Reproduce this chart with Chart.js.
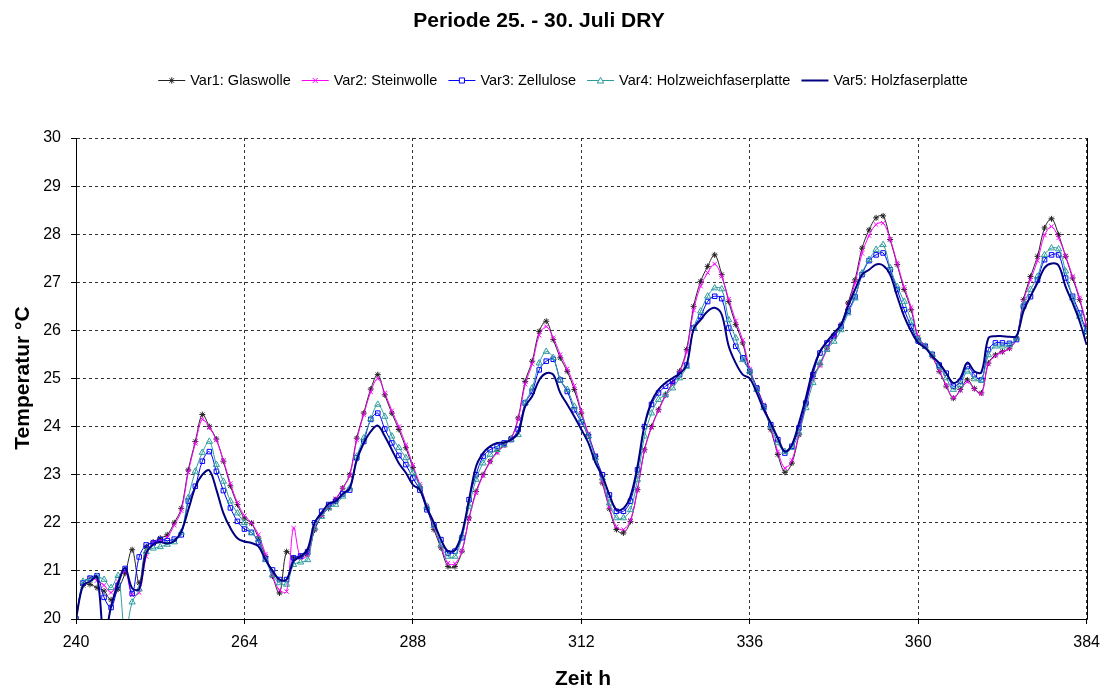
<!DOCTYPE html>
<html>
<head>
<meta charset="utf-8">
<title>Periode 25. - 30. Juli DRY</title>
<script src="https://cdn.jsdelivr.net/npm/chart.js@4.4.1/dist/chart.umd.min.js"></script>
<style>
  html, body { margin: 0; padding: 0; background: #ffffff; overflow: hidden; }
  #wrap { width: 1109px; height: 691px; }
</style>
</head>
<body>
<div id="wrap"><canvas id="chart" width="1109" height="691"></canvas></div>
<script>
// hourly simulation output, hour 240 .. 384
var hours = [];
for (var h = 240; h <= 384; h++) hours.push(h);

var xTicks = [240, 264, 288, 312, 336, 360, 384];

var glaswolle = [
  20.0, 20.7, 20.72, 20.65, 20.58, 20.4, 20.62, 20.95, 21.44, 20.75, 21.5, 21.6,
  21.68, 21.75, 22.0, 22.3, 23.1, 23.69, 24.25, 24.0, 23.74, 23.28, 22.77, 22.38,
  22.1, 21.99, 21.68, 21.3, 20.89, 20.54, 21.4, 21.27, 21.3, 21.35, 21.85, 22.15,
  22.3, 22.48, 22.72, 23.0, 23.76, 24.28, 24.78, 25.08, 24.66, 24.28, 23.94, 23.56,
  23.15, 22.75, 22.31, 21.86, 21.48, 21.09, 21.09, 21.41, 22.1, 22.65, 23.0, 23.28,
  23.48, 23.62, 23.76, 24.18, 24.94, 25.36, 25.98, 26.19, 25.81, 25.43, 25.15, 24.77,
  24.28, 23.83, 23.38, 22.83, 22.29, 21.86, 21.79, 22.03, 22.69, 23.52, 24.0, 24.35,
  24.66, 24.91, 25.15, 25.6, 26.5, 27.02, 27.33, 27.57, 27.16, 26.6, 26.12, 25.74,
  25.13, 24.8, 24.42, 23.94, 23.42, 23.05, 23.24, 23.83, 24.49, 25.04, 25.29, 25.63,
  25.88, 26.12, 26.57, 27.05, 27.71, 28.09, 28.34, 28.38, 27.89, 27.37, 26.85, 26.43,
  25.84, 25.67, 25.46, 25.15, 24.84, 24.59, 24.77, 24.97, 24.79, 24.7, 25.32, 25.49,
  25.56, 25.63, 25.84, 26.64, 27.12, 27.54, 28.13, 28.32, 27.99, 27.54, 27.09, 26.64,
  26.08
];

var steinwolle = [
  20.0, 20.75, 20.85, 20.8, 20.7, 20.55, 20.78, 21.0, 20.5, 20.55, 21.3, 21.6,
  21.62, 21.7, 21.95, 22.25, 23.05, 23.65, 24.15, 23.98, 23.72, 23.3, 22.82, 22.42,
  22.15, 22.0, 21.75, 21.35, 20.9, 20.6, 20.57, 21.89, 21.27, 21.33, 21.88, 22.15,
  22.33, 22.5, 22.72, 22.98, 23.72, 24.25, 24.72, 25.0, 24.7, 24.33, 24.0, 23.62,
  23.2, 22.8, 22.35, 21.9, 21.52, 21.16, 21.15, 21.42, 22.08, 22.62, 22.98, 23.26,
  23.46, 23.6, 23.75, 24.15, 24.88, 25.3, 25.9, 26.08, 25.85, 25.5, 25.2, 24.85,
  24.32, 23.85, 23.4, 22.86, 22.33, 21.92, 21.86, 22.05, 22.68, 23.5, 23.98, 24.33,
  24.64, 24.9, 25.13, 25.55, 26.42, 26.92, 27.2, 27.38, 27.12, 26.65, 26.2, 25.8,
  25.2, 24.82, 24.45, 23.98, 23.48, 23.14, 23.3, 23.85, 24.47, 25.0, 25.27, 25.6,
  25.86, 26.1, 26.52, 26.98, 27.6, 27.97, 28.2, 28.23, 27.9, 27.4, 26.9, 26.48,
  25.87, 25.68, 25.47, 25.17, 24.86, 24.6, 24.75, 24.93, 24.78, 24.68, 25.3, 25.47,
  25.55, 25.62, 25.83, 26.6, 27.05, 27.45, 27.98, 28.16, 27.92, 27.55, 27.12, 26.68,
  26.1
];

var zellulose = [
  20.0, 20.75, 20.85, 20.9, 20.45, 20.24, 20.7, 21.05, 20.53, 21.29, 21.54, 21.58,
  21.65, 21.63, 21.66, 21.75, 22.45, 22.76, 23.28, 23.48, 23.07, 22.67, 22.31, 22.03,
  21.87, 21.8, 21.6, 21.25, 21.02, 20.82, 20.82, 21.27, 21.31, 21.4, 22.0, 22.24,
  22.38, 22.45, 22.6, 22.68, 23.35, 23.69, 24.15, 24.28, 23.95, 23.66, 23.4, 23.21,
  22.93, 22.68, 22.27, 21.96, 21.65, 21.37, 21.41, 21.69, 22.48, 23.0, 23.38, 23.52,
  23.59, 23.66, 23.73, 23.94, 24.49, 24.73, 25.18, 25.36, 25.4, 24.97, 24.73, 24.35,
  24.1, 23.8, 23.38, 23.0, 22.58, 22.24, 22.24, 22.45, 23.1, 24.0, 24.46, 24.7,
  24.84, 24.94, 25.08, 25.28, 26.05, 26.29, 26.6, 26.71, 26.66, 26.05, 25.67, 25.43,
  25.15, 24.8, 24.42, 24.04, 23.73, 23.45, 23.59, 23.97, 24.49, 25.08, 25.53, 25.74,
  25.88, 26.08, 26.4, 26.7, 27.16, 27.45, 27.57, 27.61, 27.26, 26.85, 26.43, 26.08,
  25.78, 25.67, 25.5, 25.28, 25.11, 24.84, 24.94, 25.25, 25.08, 24.97, 25.6, 25.74,
  25.74, 25.73, 25.81, 26.5, 26.7, 27.05, 27.47, 27.57, 27.57, 27.09, 26.71, 26.36,
  25.98
];

var holzweichfaser = [
  20.0, 20.78, 20.83, 20.88, 20.82, 20.65, 20.9, 19.7, 20.35, 20.62, 21.4, 21.47,
  21.5, 21.55, 21.6, 21.8, 22.52, 23.07, 23.46, 23.69, 23.21, 22.86, 22.45, 22.2,
  22.0, 21.79, 21.65, 21.23, 20.92, 20.75, 20.72, 21.13, 21.18, 21.23, 21.9, 22.13,
  22.31, 22.38, 22.55, 22.72, 23.38, 23.76, 24.16, 24.46, 24.21, 23.8, 23.56, 23.35,
  23.04, 22.76, 22.34, 21.93, 21.54, 21.3, 21.3, 21.72, 22.34, 22.9, 23.24, 23.42,
  23.52, 23.62, 23.73, 23.83, 24.49, 24.8, 25.32, 25.56, 25.43, 24.97, 24.77, 24.42,
  24.14, 23.8, 23.35, 22.93, 22.41, 22.1, 22.1, 22.27, 22.9, 23.8, 24.28, 24.56,
  24.66, 24.8, 25.01, 25.25, 26.05, 26.4, 26.71, 26.88, 26.86, 26.22, 25.84, 25.39,
  25.15, 24.77, 24.39, 24.0, 23.66, 23.48, 23.56, 23.87, 24.39, 24.91, 25.32, 25.6,
  25.77, 26.01, 26.36, 26.67, 27.19, 27.47, 27.68, 27.78, 27.3, 26.91, 26.6, 26.19,
  25.81, 25.67, 25.5, 25.25, 25.01, 24.77, 24.87, 25.15, 24.99, 24.96, 25.49, 25.67,
  25.67, 25.7, 25.84, 26.53, 26.85, 27.12, 27.57, 27.71, 27.69, 27.23, 26.67, 26.29,
  25.95
];

var holzfaser = [
  20.0, 20.7, 20.78, 20.88, 19.6, 20.26, 20.75, 21.06, 20.64, 20.62, 21.37, 21.55,
  21.6, 21.57, 21.62, 21.82, 22.27, 22.74, 23.0, 23.09, 22.69, 22.2, 21.89, 21.68,
  21.61, 21.58, 21.51, 21.23, 21.0, 20.82, 20.82, 21.2, 21.3, 21.45, 22.0, 22.2,
  22.4, 22.45, 22.6, 22.72, 23.3, 23.66, 23.9, 24.02, 23.8, 23.52, 23.24, 23.04,
  22.79, 22.68, 22.31, 22.0, 21.65, 21.41, 21.44, 21.79, 22.48, 23.17, 23.45, 23.59,
  23.66, 23.67, 23.73, 23.87, 24.42, 24.63, 24.97, 25.11, 25.08, 24.7, 24.46, 24.21,
  23.94, 23.66, 23.25, 22.97, 22.58, 22.27, 22.3, 22.55, 23.17, 24.03, 24.52, 24.77,
  24.91, 25.01, 25.1, 25.28, 26.03, 26.22, 26.4, 26.47, 26.33, 25.67, 25.32, 25.08,
  25.0, 24.7, 24.35, 24.07, 23.76, 23.48, 23.62, 24.07, 24.6, 25.18, 25.56, 25.77,
  25.95, 26.12, 26.5, 26.85, 27.16, 27.26, 27.37, 27.35, 27.16, 26.71, 26.29, 25.98,
  25.74, 25.64, 25.46, 25.32, 25.11, 24.91, 25.01, 25.33, 25.15, 25.13, 25.84, 25.88,
  25.88, 25.87, 25.88, 26.4, 26.71, 26.99, 27.3, 27.39, 27.35, 26.91, 26.57, 26.19,
  25.7
];

var seriesNames = [
  "Var1: Glaswolle",
  "Var2: Steinwolle",
  "Var3: Zellulose",
  "Var4: Holzweichfaserplatte",
  "Var5: Holzfaserplatte"
];

var FONT = "Arial, 'Liberation Sans', sans-serif";

function points(values) {
  return values.map(function (v, i) { return { x: hours[i], y: v }; });
}

function series(idx, values, color, width, style, radius, order) {
  return {
    label: seriesNames[idx],
    data: points(values),
    borderColor: color,
    backgroundColor: color,
    borderWidth: width,
    pointStyle: style,
    pointRadius: radius,
    pointBorderColor: color,
    pointBackgroundColor: "rgba(0,0,0,0)",
    pointBorderWidth: 1,
    tension: 0.35,
    fill: false,
    order: order
  };
}

var datasets = [
  series(0, glaswolle, "#222222", 1, "star", 3, 5),
  series(1, steinwolle, "#ff00ff", 1, "crossRot", 3, 4),
  series(2, zellulose, "#0000ff", 1, "rect", 3.2, 3),
  series(3, holzweichfaser, "#2e9c9c", 1, "triangle", 3.6, 2),
  series(4, holzfaser, "#000080", 2, false, 0, 1)
];

// little marker painter used by the hand-drawn legend
function drawMarker(ctx, style, x, y, color) {
  var r = 3.2;
  ctx.save();
  ctx.strokeStyle = color;
  ctx.lineWidth = 1;
  ctx.beginPath();
  if (style === "star") {
    ctx.moveTo(x - r, y); ctx.lineTo(x + r, y);
    ctx.moveTo(x, y - r); ctx.lineTo(x, y + r);
    ctx.moveTo(x - r * 0.7, y - r * 0.7); ctx.lineTo(x + r * 0.7, y + r * 0.7);
    ctx.moveTo(x - r * 0.7, y + r * 0.7); ctx.lineTo(x + r * 0.7, y - r * 0.7);
  } else if (style === "crossRot") {
    ctx.moveTo(x - r * 0.8, y - r * 0.8); ctx.lineTo(x + r * 0.8, y + r * 0.8);
    ctx.moveTo(x - r * 0.8, y + r * 0.8); ctx.lineTo(x + r * 0.8, y - r * 0.8);
  } else if (style === "rect") {
    ctx.fillStyle = "#ffffff";
    ctx.rect(x - r * 0.8, y - r * 0.8, r * 1.6, r * 1.6);
    ctx.fill();
  } else if (style === "triangle") {
    ctx.fillStyle = "#ffffff";
    ctx.moveTo(x, y - r);
    ctx.lineTo(x + r, y + r * 0.8);
    ctx.lineTo(x - r, y + r * 0.8);
    ctx.closePath();
    ctx.fill();
  }
  ctx.stroke();
  ctx.restore();
}

var decorations = {
  id: "decorations",
  afterDraw: function (chart) {
    var ctx = chart.ctx;
    var area = chart.chartArea;
    ctx.save();

    // solid frame on left, bottom and right of the plot
    ctx.strokeStyle = "#000000";
    ctx.lineWidth = 1;
    ctx.beginPath();
    ctx.moveTo(Math.round(area.left) + 0.5, area.top);
    ctx.lineTo(Math.round(area.left) + 0.5, Math.round(area.bottom) + 0.5);
    ctx.lineTo(Math.round(area.right) + 0.5, Math.round(area.bottom) + 0.5);
    ctx.lineTo(Math.round(area.right) + 0.5, area.top);
    ctx.stroke();

    // title
    ctx.fillStyle = "#000000";
    ctx.textAlign = "center";
    ctx.textBaseline = "middle";
    ctx.font = "bold 21px " + FONT;
    ctx.fillText("Periode 25. - 30. Juli DRY", 539, 21);

    // axis titles
    ctx.font = "bold 21px " + FONT;
    ctx.fillText("Zeit h", 583, 679);
    ctx.save();
    ctx.translate(23, 378);
    ctx.rotate(-Math.PI / 2);
    ctx.font = "bold 21px " + FONT;
    ctx.fillText("Temperatur \u00B0C", 0, 0);
    ctx.restore();

    // legend: short line with marker, then the name
    ctx.font = "14.5px " + FONT;
    var seg = 27, gapText = 5, gapItem = 11;
    var widths = seriesNames.map(function (n) { return ctx.measureText(n).width; });
    var total = 0;
    widths.forEach(function (w) { total += seg + gapText + w; });
    total += gapItem * (seriesNames.length - 1);
    var x = 563 - total / 2;
    var y = 80;
    ctx.textAlign = "left";
    datasets.forEach(function (ds, i) {
      ctx.strokeStyle = ds.borderColor;
      ctx.lineWidth = ds.borderWidth;
      ctx.beginPath();
      ctx.moveTo(x, y + 0.5);
      ctx.lineTo(x + seg, y + 0.5);
      ctx.stroke();
      if (ds.pointStyle) drawMarker(ctx, ds.pointStyle, x + seg / 2, y + 0.5, ds.borderColor);
      ctx.fillStyle = "#000000";
      ctx.fillText(seriesNames[i], x + seg + gapText, y + 1);
      x += seg + gapText + widths[i] + gapItem;
    });
    ctx.restore();
  }
};

new Chart(document.getElementById("chart").getContext("2d"), {
  type: "line",
  data: { datasets: datasets },
  options: {
    responsive: false,
    animation: false,
    layout: { padding: { left: 0, right: 18, top: 138, bottom: 0 } },
    plugins: {
      legend: { display: false },
      title: { display: false },
      tooltip: { enabled: false }
    },
    scales: {
      x: {
        type: "linear",
        min: 240,
        max: 384,
        afterBuildTicks: function (scale) {
          scale.ticks = xTicks.map(function (v) { return { value: v }; });
        },
        afterFit: function (scale) { scale.height = 72; },
        ticks: {
          color: "#000000",
          font: { family: FONT, size: 16 },
          padding: 9,
          maxRotation: 0
        },
        grid: {
          color: "#333333",
          lineWidth: 1,
          tickLength: 5,
          tickColor: "#000000",
          tickBorderDash: []
        },
        border: { display: true, color: "#000000", width: 1, dash: [3, 3] }
      },
      y: {
        min: 20,
        max: 30,
        afterFit: function (scale) { scale.width = 76; },
        ticks: {
          stepSize: 1,
          color: "#000000",
          font: { family: FONT, size: 16 },
          padding: 10
        },
        grid: {
          color: "#333333",
          lineWidth: 1,
          tickLength: 5,
          tickColor: "#000000",
          tickBorderDash: []
        },
        border: { display: true, color: "#000000", width: 1, dash: [3, 3] }
      }
    }
  },
  plugins: [decorations]
});
</script>
</body>
</html>
